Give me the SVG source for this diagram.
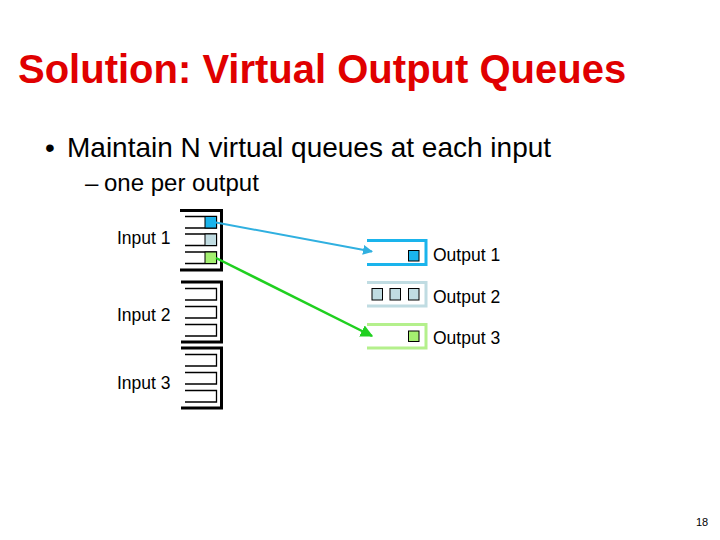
<svg xmlns="http://www.w3.org/2000/svg" width="720" height="540" viewBox="0 0 720 540">
<defs>
<style>
.title{font-family:"Liberation Sans",Arial,sans-serif;font-weight:bold;font-size:40px;fill:#e00000}
.body{font-family:"Liberation Sans",Arial,sans-serif;fill:#000}
.lbl{font-family:"Liberation Sans",Arial,sans-serif;font-size:17.5px;fill:#000}
.brk{fill:none;stroke:#000;stroke-width:3}
.q{fill:none;stroke:#000;stroke-width:1.3}
.cell{stroke:#000;stroke-width:1}
.blue{fill:#1ab4ec}
.gray{fill:#c0dce2}
.green{fill:#a4f070}
</style>
<marker id="ahB" viewBox="0 0 10 10" refX="9" refY="5" markerWidth="5" markerHeight="5" orient="auto" markerUnits="strokeWidth">
<path d="M0,0 L10,5 L0,10 z" fill="#30b0e0"/>
</marker>
<marker id="ahG" viewBox="0 0 10 10" refX="9" refY="5" markerWidth="5" markerHeight="5" orient="auto" markerUnits="strokeWidth">
<path d="M0,0 L10,5 L0,10 z" fill="#20d020"/>
</marker>
</defs>
<rect width="720" height="540" fill="#fff"/>
<text class="title" x="18" y="83">Solution: Virtual Output Queues</text>
<text class="body" x="45" y="157" font-size="28">•</text>
<text class="body" x="67" y="157" font-size="28">Maintain N virtual queues at each input</text>
<text class="body" x="85" y="191" font-size="24">–</text>
<text class="body" x="104" y="191" font-size="24">one per output</text>

<g id="input1">
<path class="brk" d="M180,210.5 H221.5 V270 H180"/>
<path class="q" d="M185,216.5 H216.5 V228 H185"/>
<path class="q" d="M185,234 H216.5 V245.5 H185"/>
<path class="q" d="M185,252 H216.5 V263.5 H185"/>
<rect class="cell blue" x="205" y="216.5" width="11.5" height="11.5"/>
<rect class="cell gray" x="205" y="234" width="11.5" height="11.5"/>
<rect class="cell green" x="205" y="252" width="11.5" height="11.5"/>
<text class="lbl" x="117" y="244">Input 1</text>
</g>
<g id="input2">
<path class="brk" d="M181,282 H221.5 V342 H181"/>
<path class="q" d="M185,288.5 H216.5 V300 H185"/>
<path class="q" d="M185,306.5 H216.5 V318 H185"/>
<path class="q" d="M185,324.5 H216.5 V336 H185"/>
<text class="lbl" x="117" y="321">Input 2</text>
</g>
<g id="input3">
<path class="brk" d="M181,348 H221.5 V408 H181"/>
<path class="q" d="M185,354.5 H216.5 V366 H185"/>
<path class="q" d="M185,372.5 H216.5 V384 H185"/>
<path class="q" d="M185,390.5 H216.5 V402 H185"/>
<text class="lbl" x="117" y="389">Input 3</text>
</g>

<g id="output1">
<path d="M367,240.5 H426 V264.5 H367" fill="none" stroke="#1ab4ec" stroke-width="3"/>
<rect class="cell blue" x="408.5" y="250.5" width="10.5" height="10.5"/>
<text class="lbl" x="433" y="261">Output 1</text>
</g>
<g id="output2">
<path d="M367,282.5 H426 V306 H367" fill="none" stroke="#c0dce2" stroke-width="3"/>
<rect class="cell gray" x="372" y="288.5" width="10.5" height="11.5"/>
<rect class="cell gray" x="390" y="288.5" width="10.5" height="11.5"/>
<rect class="cell gray" x="408.5" y="288.5" width="10.5" height="11.5"/>
<text class="lbl" x="433" y="303">Output 2</text>
</g>
<g id="output3">
<path d="M367,324.5 H426 V348 H367" fill="none" stroke="#b4f08c" stroke-width="3"/>
<rect class="cell green" x="408.5" y="331" width="10.5" height="10.5"/>
<text class="lbl" x="433" y="344">Output 3</text>
</g>

<g id="connectors">
<line x1="216" y1="222.5" x2="372" y2="251.5" stroke="#30b0e0" stroke-width="2" marker-end="url(#ahB)"/>
<line x1="216" y1="258" x2="372" y2="336" stroke="#20d020" stroke-width="2.5" marker-end="url(#ahG)"/>
</g>

<text class="body" x="696" y="526" font-size="11">18</text>
</svg>
